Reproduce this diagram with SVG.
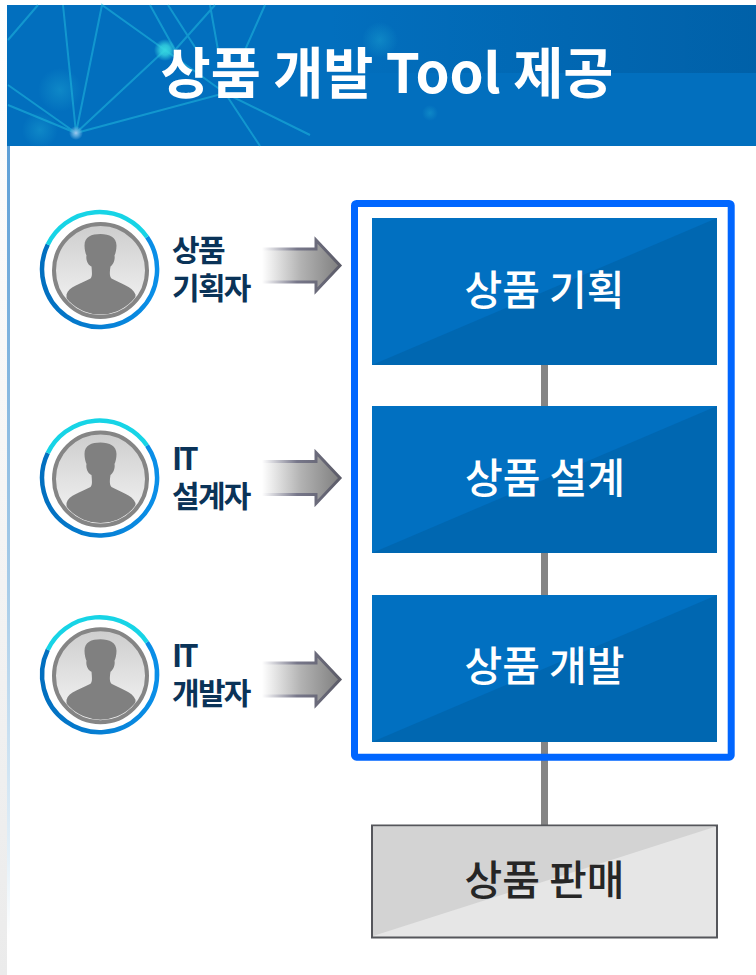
<svg xmlns="http://www.w3.org/2000/svg" width="756" height="975" viewBox="0 0 756 975">
<style>
.t{font-family:"Noto Sans CJK KR","Noto Sans",sans-serif}
.title{font-size:54.500px;font-weight:700;fill:#fff}
.box{font-size:41px;font-weight:500;fill:#fff;text-anchor:middle}
.role{font-size:30px;font-weight:700;fill:#0a3358;letter-spacing:-1.700px}
.it{font-size:31px;font-weight:700;fill:#0a3358;letter-spacing:-3px}
.net{stroke:#22c0e0;stroke-width:2;fill:none;opacity:.5}
</style>
<defs>
<filter id="soft" x="-10%" y="-10%" width="120%" height="120%"><feGaussianBlur stdDeviation=".7"/></filter>
<linearGradient id="strip" x1="0" y1="0" x2="0" y2="1"><stop offset="0" stop-color="#fff"/><stop offset="1" stop-color="#ebebeb"/></linearGradient>
<linearGradient id="band" x1="0" y1="0" x2="1" y2="0"><stop offset="0" stop-color="#005fa6" stop-opacity="0"/><stop offset="1" stop-color="#005fa6" stop-opacity=".9"/></linearGradient>
<linearGradient id="edge" x1="0" y1="0" x2="0" y2="1"><stop offset="0" stop-color="#5e9fd6"/><stop offset=".55" stop-color="#a6cbe8"/><stop offset=".9" stop-color="#e4f0f8"/><stop offset="1" stop-color="#fff"/></linearGradient>
<linearGradient id="face" x1="0" y1="0" x2="0" y2="1"><stop offset="0" stop-color="#cdcdcd"/><stop offset="1" stop-color="#f6f6f6"/></linearGradient>
<linearGradient id="ringB" x1="0" y1="0" x2="1" y2="0"><stop offset="0" stop-color="#026fbf"/><stop offset="1" stop-color="#0a8fe8"/></linearGradient>
<linearGradient id="arrow" x1="0" y1="0" x2="1" y2="0"><stop offset="0" stop-color="#fff"/><stop offset=".5" stop-color="#b2b2b2"/><stop offset="1" stop-color="#7f7f7f"/></linearGradient>
<linearGradient id="arrowS" x1="0" y1="0" x2="1" y2="0"><stop offset="0" stop-color="#fff"/><stop offset=".45" stop-color="#77778a"/><stop offset="1" stop-color="#5c5c68"/></linearGradient>
<radialGradient id="glow"><stop offset="0" stop-color="#35d5e0"/><stop offset=".45" stop-color="#35d5e0" stop-opacity=".8"/><stop offset="1" stop-color="#35d5e0" stop-opacity="0"/></radialGradient>
<radialGradient id="glow2"><stop offset="0" stop-color="#a0c8ee"/><stop offset=".4" stop-color="#70b8e4" stop-opacity=".8"/><stop offset="1" stop-color="#70b8e4" stop-opacity="0"/></radialGradient>
<radialGradient id="haze"><stop offset="0" stop-color="#1aa0d0" stop-opacity=".5"/><stop offset="1" stop-color="#1aa0d0" stop-opacity="0"/></radialGradient>
<clipPath id="faceClip"><circle cx="1" cy="1" r="44"/></clipPath>
<g id="person">
<circle r="57.500" fill="#fff"/>
<path d="M-51.700-25A57.500 57.500 0 1 0 47.500-32.500" fill="none" stroke="url(#ringB)" stroke-width="4.500"/>
<path d="M-51.700-25A57.500 57.500 0 0 1 47.500-32.500" fill="none" stroke="#17d4e6" stroke-width="4.500"/>
<circle cx="1" cy="1" r="46.500" fill="url(#face)" stroke="#858585" stroke-width="4"/>
<path clip-path="url(#faceClip)" d="M-33 25C-31 17-18 14-9 9C-7 7-7.500 3-8-3C-11-4-14-9-13-14C-14-16-15-20-15-24C-15-33-8-35.500 1-35.500C10-35.500 17-32 17-24C17-20 16-16 15-14C16-9 13-4 11-3C10 3 10 7 12 9C21 14 33 17 36 25V50H-33Z" fill="#808080"/>
</g>
<g id="arr">
<path d="M0 10.500H54V1.500L78 27L54 52.500V43.500H0Z" fill="url(#arrow)"/>
<path d="M0 10.500H54V1.500L78 27L54 52.500V43.500H0" fill="none" stroke="url(#arrowS)" stroke-width="3"/>
</g>
<g id="bluebox">
<rect width="345" height="147" fill="#0067b1"/>
<path d="M0 147V0H345Z" fill="#0170c1"/>
</g>
</defs>
<rect width="756" height="975" fill="#fff"/>
<rect x="0" y="0" width="7" height="975" fill="url(#strip)"/>
<g id="header">
<rect x="7" y="5" width="749" height="141" fill="#026fbe"/>
<rect x="330" y="5" width="426" height="68" fill="url(#band)"/>
<circle cx="60" cy="90" r="22" fill="url(#haze)"/>
<circle cx="40" cy="130" r="18" fill="url(#haze)"/>
<circle cx="430" cy="113" r="8" fill="url(#haze)"/>
<circle cx="380" cy="40" r="18" fill="url(#haze)"/>
<g class="net" filter="url(#soft)">
<path d="M8 40L38 5M63 5L76 133L102 5L165 50M76 133L165 50M76 133L225 93L310 135M8 85L76 133M8 105L76 133M168 5L200 55M150 5L175 50M175 50L215 5M225 93L260 146M265 5L245 50M210 5L218 50M165 50L225 93"/>
</g>
<circle cx="165" cy="50" r="11" fill="url(#glow)"/>
<circle cx="76" cy="133" r="7" fill="url(#glow2)"/>
<text class="t title" x="387" y="93" text-anchor="middle">상품 개발 Tool 제공</text>
</g>
<rect id="left-edge" x="7" y="146" width="3" height="790" fill="url(#edge)"/>
<g id="connectors" fill="#858585">
<rect x="541" y="365" width="7" height="41"/>
<rect x="541" y="553" width="7" height="42"/>
<rect x="541" y="742" width="7" height="83"/>
<use href="#arr" x="262" y="238.500"/>
<use href="#arr" x="262" y="451"/>
<use href="#arr" x="262" y="652.500"/>
</g>
<rect id="group-frame" x="354.500" y="203.500" width="376.700" height="553.700" rx="2" fill="none" stroke="#0066ff" stroke-width="7"/>
<g id="planning"><use href="#bluebox" x="372" y="218"/><text class="t box" x="544.500" y="305">상품 기획</text></g>
<g id="design"><use href="#bluebox" x="372" y="406"/><text class="t box" x="545" y="493">상품 설계</text></g>
<g id="dev"><use href="#bluebox" x="372" y="595"/><text class="t box" x="544.500" y="681">상품 개발</text></g>
<g id="sales">
<rect x="372" y="825.500" width="345" height="112" fill="#e6e6e6" stroke="#55565b" stroke-width="2"/>
<path d="M373 936V826.500H716Z" fill="#d3d3d3"/>
<text class="t" x="544.500" y="895" font-size="41" font-weight="500" fill="#262626" text-anchor="middle">상품 판매</text>
</g>
<g id="planner"><use href="#person" x="99.500" y="269.500"/><text class="t role" x="172" y="261">상품</text><text class="t role" x="172" y="299">기획자</text></g>
<g id="it-designer"><use href="#person" x="99.500" y="478"/><text class="t it" x="172" y="470">IT</text><text class="t role" x="172" y="507">설계자</text></g>
<g id="it-developer"><use href="#person" x="99.500" y="674.700"/><text class="t it" x="172" y="667">IT</text><text class="t role" x="172" y="704">개발자</text></g>
</svg>
